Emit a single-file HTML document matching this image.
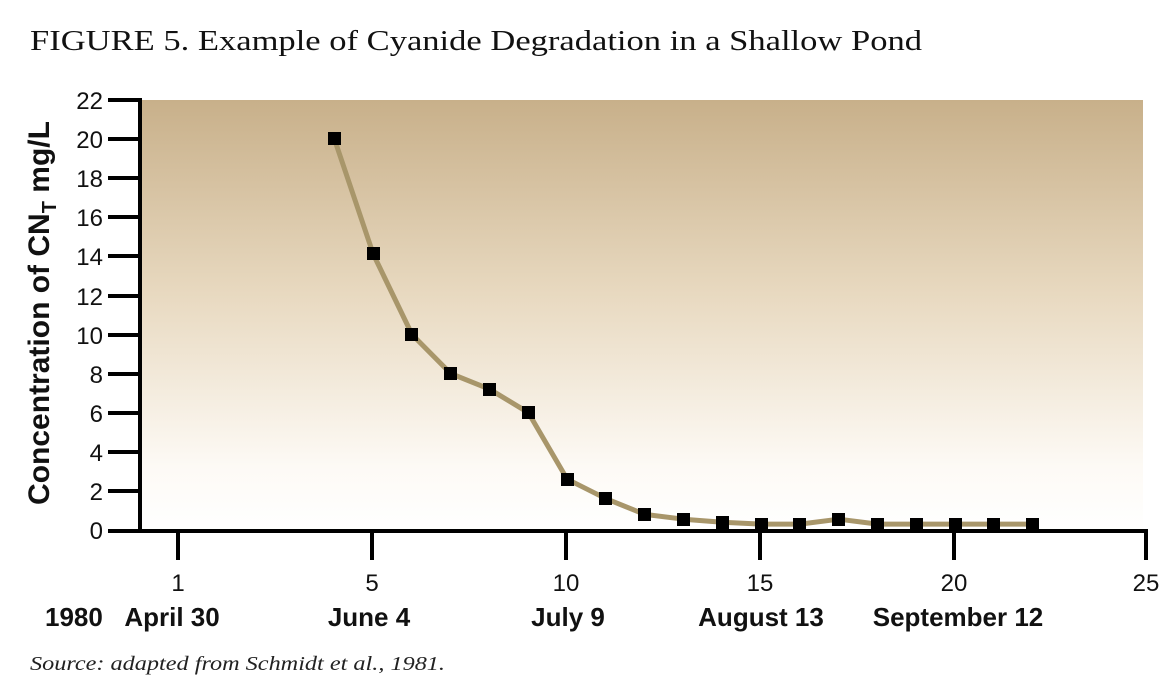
<!DOCTYPE html>
<html><head><meta charset="utf-8"><style>
html,body{margin:0;padding:0;background:#fff;width:1171px;height:700px;overflow:hidden}
</style></head><body>
<svg width="1171" height="700" viewBox="0 0 1171 700" xmlns="http://www.w3.org/2000/svg">
<defs>
<linearGradient id="g" x1="0" y1="0" x2="0" y2="1">
<stop offset="0" stop-color="#c8b08a"/>
<stop offset="0.45" stop-color="#e8d9c0"/>
<stop offset="0.85" stop-color="#fdfaf5"/>
<stop offset="1" stop-color="#ffffff"/>
</linearGradient>
</defs>
<text x="30" y="50" font-family="Liberation Serif, serif" font-size="29" fill="#111" textLength="892" lengthAdjust="spacingAndGlyphs">FIGURE 5. Example of Cyanide Degradation in a Shallow Pond</text>
<rect x="140" y="100" width="1003" height="431" fill="url(#g)"/>
<g stroke="#000" stroke-width="4">
<line x1="140" y1="98" x2="140" y2="533"/>
<line x1="108" y1="531" x2="1148" y2="531"/>
</g>
<g stroke="#000" stroke-width="4">
<line x1="108" y1="100" x2="140" y2="100"/><line x1="108" y1="139" x2="140" y2="139"/>
<line x1="108" y1="178" x2="140" y2="178"/><line x1="108" y1="217" x2="140" y2="217"/>
<line x1="108" y1="256" x2="140" y2="256"/><line x1="108" y1="296" x2="140" y2="296"/>
<line x1="108" y1="335" x2="140" y2="335"/><line x1="108" y1="374" x2="140" y2="374"/>
<line x1="108" y1="413" x2="140" y2="413"/><line x1="108" y1="452" x2="140" y2="452"/>
<line x1="108" y1="491" x2="140" y2="491"/>
</g>
<g font-family="Liberation Sans, sans-serif" font-size="24" fill="#111" text-anchor="end">
<text x="103" y="109">22</text><text x="103" y="148">20</text><text x="103" y="187">18</text>
<text x="103" y="226">16</text><text x="103" y="265">14</text><text x="103" y="305">12</text>
<text x="103" y="344">10</text><text x="103" y="383">8</text><text x="103" y="422">6</text>
<text x="103" y="461">4</text><text x="103" y="500">2</text><text x="103" y="539">0</text>
</g>
<g stroke="#000" stroke-width="4">
<line x1="178" y1="531" x2="178" y2="560"/><line x1="372" y1="531" x2="372" y2="560"/>
<line x1="566" y1="531" x2="566" y2="560"/><line x1="760" y1="531" x2="760" y2="560"/>
<line x1="954" y1="531" x2="954" y2="560"/><line x1="1146" y1="531" x2="1146" y2="560"/>
</g>
<g font-family="Liberation Sans, sans-serif" font-size="24" fill="#111" text-anchor="middle">
<text x="178" y="591">1</text><text x="372" y="591">5</text><text x="566" y="591">10</text>
<text x="760" y="591">15</text><text x="954" y="591">20</text><text x="1146" y="591">25</text>
</g>
<g font-family="Liberation Sans, sans-serif" font-size="26" font-weight="bold" fill="#111">
<text x="45" y="626">1980</text>
<text x="172" y="626" text-anchor="middle">April 30</text>
<text x="369" y="626" text-anchor="middle">June 4</text>
<text x="568" y="626" text-anchor="middle">July 9</text>
<text x="761" y="626" text-anchor="middle">August 13</text>
<text x="958" y="626" text-anchor="middle">September 12</text>
</g>
<text transform="translate(49,313) rotate(-90)" text-anchor="middle" font-family="Liberation Sans, sans-serif" font-size="30" font-weight="bold" fill="#111">Concentration of CN<tspan font-size="20" dy="7">T</tspan><tspan dy="-7"> mg/L</tspan></text>
<text x="30" y="670" font-family="Liberation Serif, serif" font-style="italic" font-size="20" fill="#222" textLength="415" lengthAdjust="spacingAndGlyphs">Source: adapted from Schmidt et al., 1981.</text>
<polyline fill="none" stroke="#a8966a" stroke-width="5" stroke-linejoin="round"
points="334.4,139 373.2,254 412,334.5 450.8,373.6 489.6,389.2 528.4,412.7 567.2,479.2 606,498.7 644.8,514.4 683.6,519.2 722.4,522.2 761.2,524.1 800,524.1 838.8,519.2 877.6,524.1 916.4,524.1 955.2,524.1 994,524.1 1032.8,524.1"/>
<g fill="#000">
<rect x="328" y="132" width="13" height="13"/><rect x="367" y="247" width="13" height="13"/>
<rect x="405" y="328" width="13" height="13"/><rect x="444" y="367" width="13" height="13"/>
<rect x="483" y="383" width="13" height="13"/><rect x="522" y="406" width="13" height="13"/>
<rect x="561" y="473" width="13" height="13"/><rect x="599" y="492" width="13" height="13"/>
<rect x="638" y="508" width="13" height="13"/><rect x="677" y="513" width="13" height="13"/>
<rect x="716" y="516" width="13" height="13"/><rect x="755" y="518" width="13" height="13"/>
<rect x="793" y="518" width="13" height="13"/><rect x="832" y="513" width="13" height="13"/>
<rect x="871" y="518" width="13" height="13"/><rect x="910" y="518" width="13" height="13"/>
<rect x="949" y="518" width="13" height="13"/><rect x="987" y="518" width="13" height="13"/>
<rect x="1026" y="518" width="13" height="13"/>
</g>
</svg>
</body></html>
